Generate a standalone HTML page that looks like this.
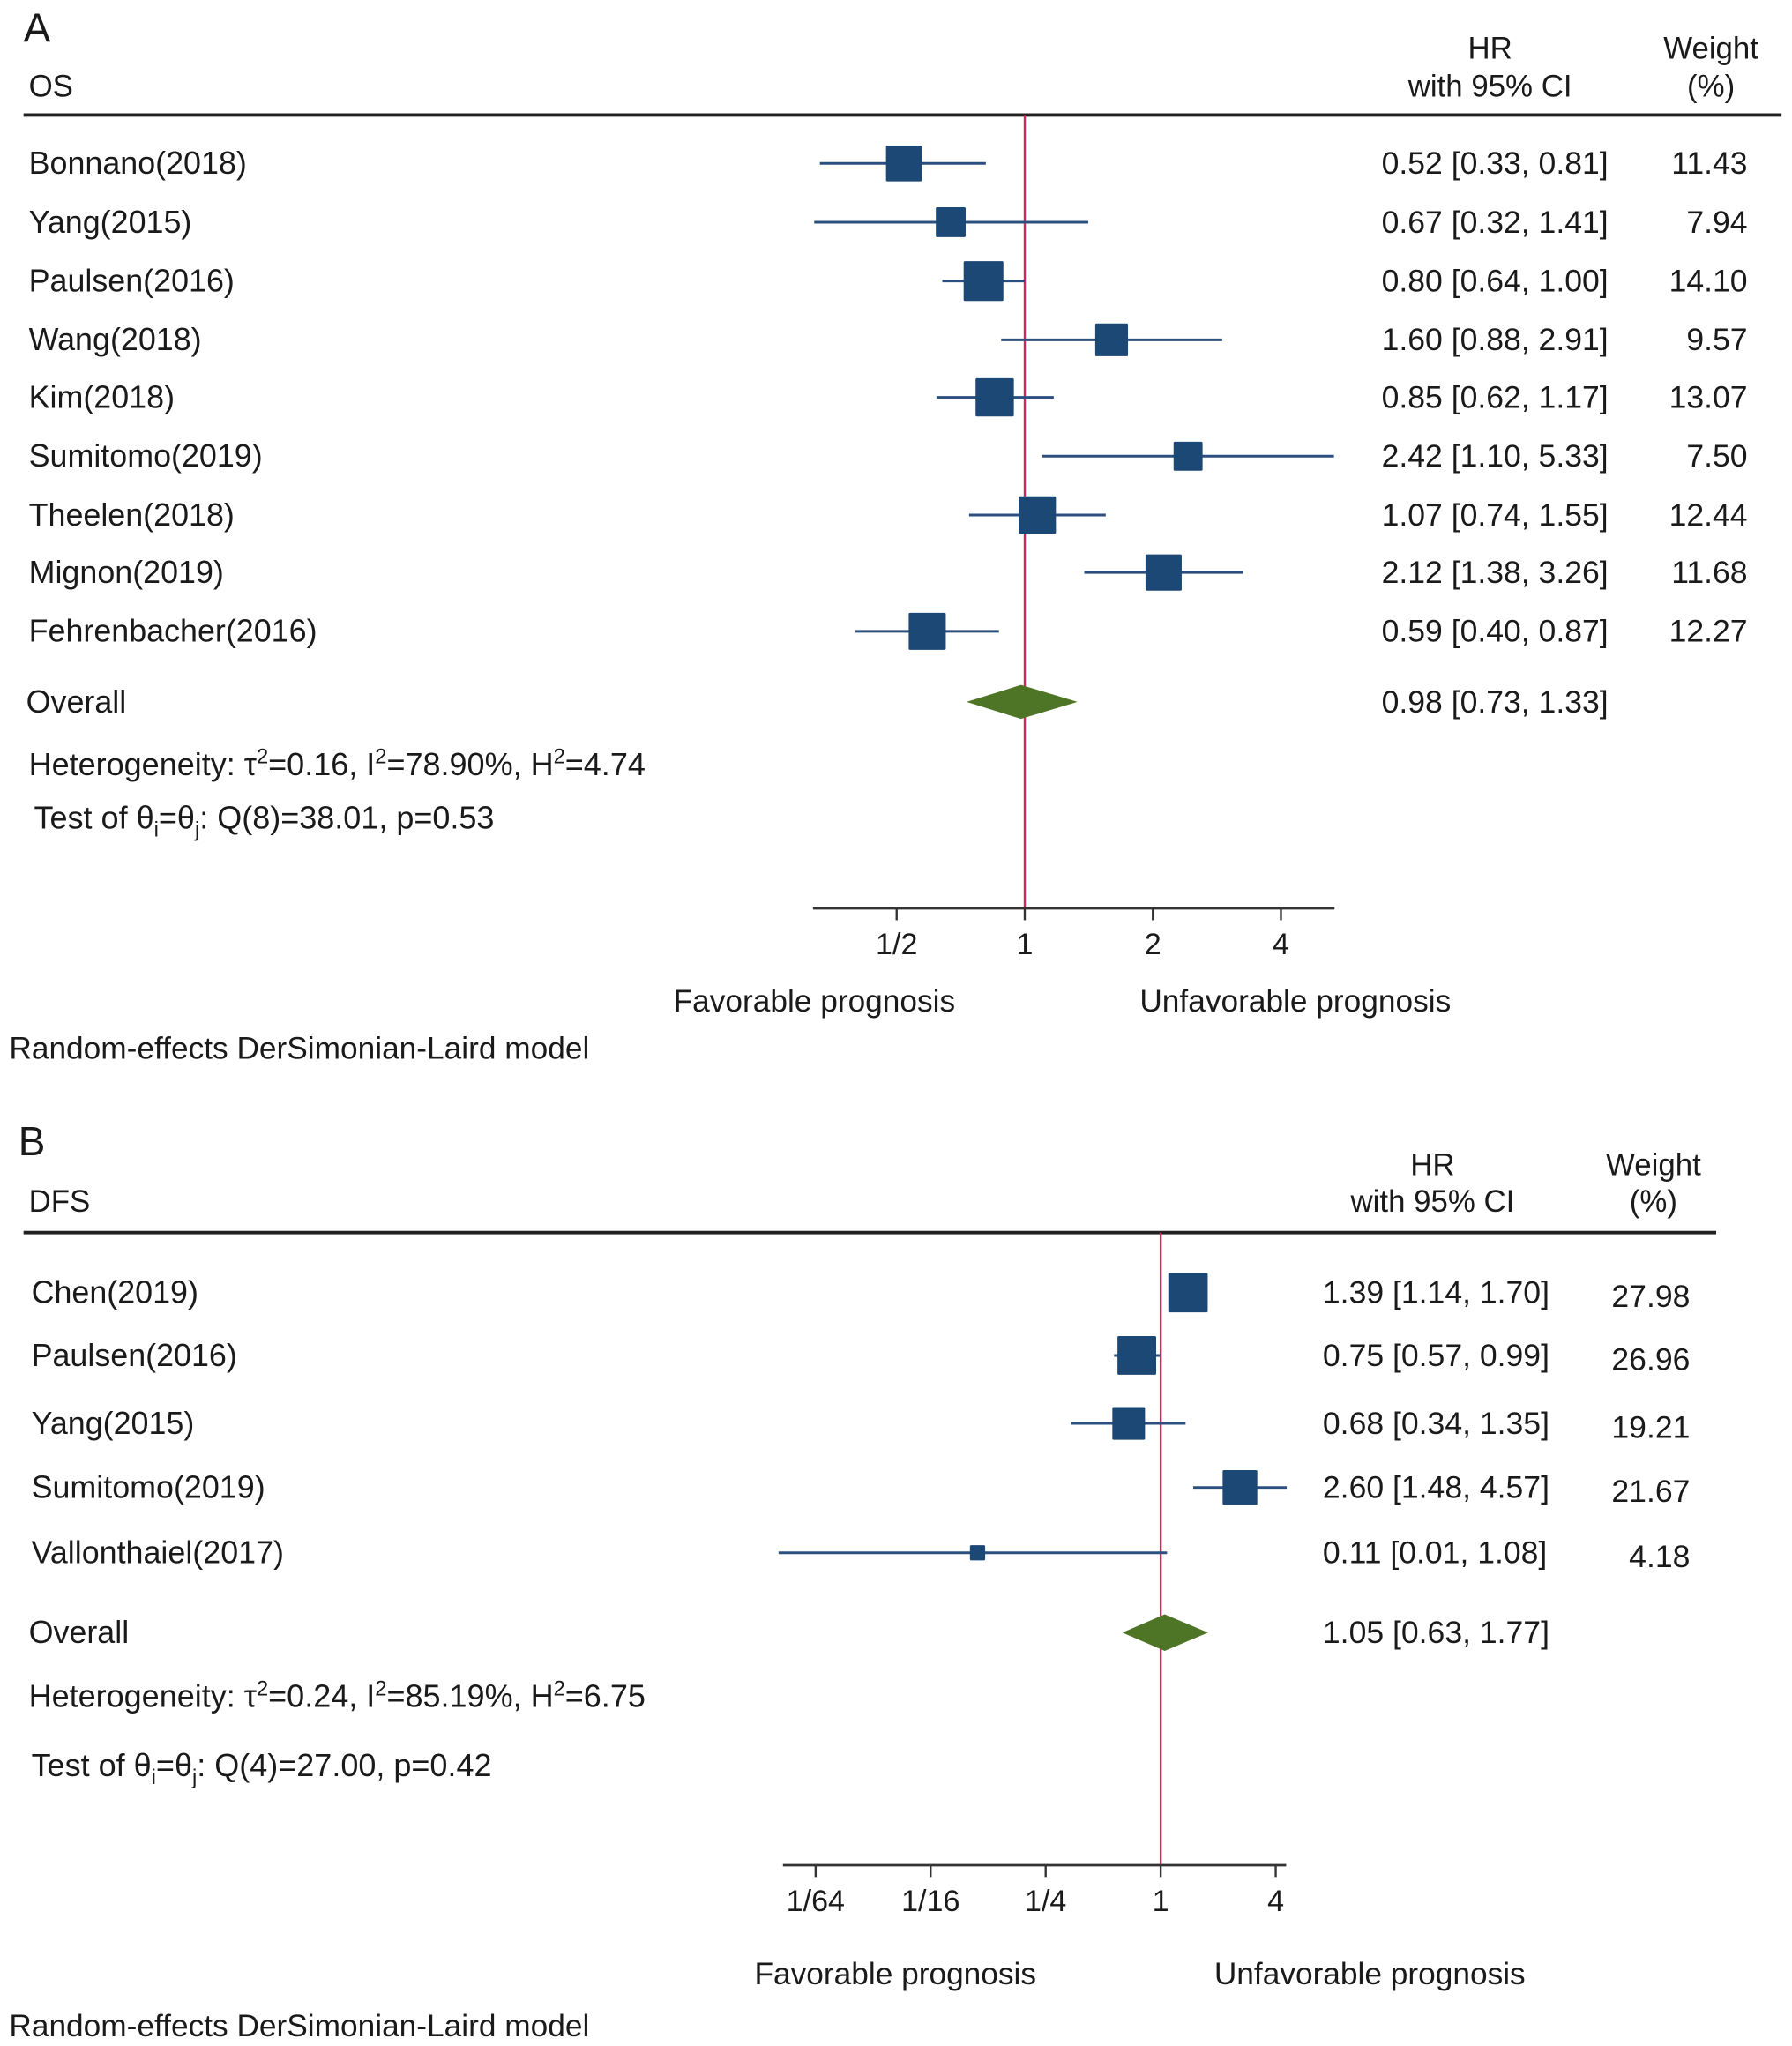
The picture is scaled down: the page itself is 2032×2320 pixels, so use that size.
<!DOCTYPE html>
<html><head><meta charset="utf-8"><style>
html,body{margin:0;padding:0;background:#fff}
svg{display:block}
text{font-family:"Liberation Sans",Arial,sans-serif;fill:#1a1a1a}
</style></head><body>
<svg id="fig" width="2032" height="2320" viewBox="0 0 1371 1565.3" xmlns="http://www.w3.org/2000/svg">
<g id="panelA"></g>
<g id="panelB"></g>
</svg>
<script>
// ---- Panel A data (OS) ----
const studiesA = ["Bonnano(2018)","Yang(2015)","Paulsen(2016)","Wang(2018)","Kim(2018)","Sumitomo(2019)","Theelen(2018)","Mignon(2019)","Fehrenbacher(2016)"];
const hrA = [0.52,0.67,0.80,1.60,0.85,2.42,1.07,2.12,0.59];
const loA = [0.33,0.32,0.64,0.88,0.62,1.10,0.74,1.38,0.40];
const hiA = [0.81,1.41,1.00,2.91,1.17,5.33,1.55,3.26,0.87];
const weightsA = ["11.43","7.94","14.10","9.57","13.07","7.50","12.44","11.68","12.27"];
const overallA = [0.98,0.73,1.33];
const ticksA = [0.5,1,2,4];
const tickLabelsA = ["1/2","1","2","4"];
// ---- Panel B data (DFS) ----
const studiesB = ["Chen(2019)","Paulsen(2016)","Yang(2015)","Sumitomo(2019)","Vallonthaiel(2017)"];
const hrB = [1.39,0.75,0.68,2.60,0.11];
const loB = [1.14,0.57,0.34,1.48,0.01];
const hiB = [1.70,0.99,1.35,4.57,1.08];
const weightsB = ["27.98","26.96","19.21","21.67","4.18"];
const overallB = [1.05,0.63,1.77];
const ticksB = [1/64,1/16,1/4,1,4];
const tickLabelsB = ["1/64","1/16","1/4","1","4"];

const NS="http://www.w3.org/2000/svg";
function mk(parent,tag,attrs,txt){const e=document.createElementNS(NS,tag);for(const k in attrs)e.setAttribute(k,attrs[k]);if(txt!==undefined)e.textContent=txt;parent.appendChild(e);return e;}
function fmt(v){return v.toFixed(2);}

function panel(g,cfg,studies,hr,lo,hi,w,ov,ticks,tl){
  const xs=v=>cfg.x1+Math.log2(v)*cfg.unit;
  let t;
  t=mk(g,'text',{x:cfg.letterX,y:cfg.letterY,'font-size':31},cfg.letter);
  
  
  t=mk(g,'text',{x:22,y:cfg.hdrY2,'font-size':23.5},cfg.outcome);
  
  
  t=mk(g,'text',{x:cfg.hrHdrX,y:cfg.hdrY1,'font-size':23.5,'text-anchor':'middle'},'HR');
  
  
  t=mk(g,'text',{x:cfg.hrHdrX,y:cfg.hdrY2,'font-size':23.5,'text-anchor':'middle'},'with 95% CI');
  
  
  t=mk(g,'text',{x:cfg.wHdrX,y:cfg.hdrY1,'font-size':23.5,'text-anchor':'middle'},'Weight');
  
  
  t=mk(g,'text',{x:cfg.wHdrX,y:cfg.hdrY2,'font-size':23.5,'text-anchor':'middle'},'(%)');
  
  
  let r=mk(g,'rect',{x:18,y:cfg.ruleY-1.3,width:cfg.ruleX2-18,height:2.6,fill:'#222'});
  
  
  let l=mk(g,'line',{x1:xs(1),x2:xs(1),y1:cfg.ruleY,y2:cfg.axisY,stroke:'#d8245a','stroke-width':1.6});
  
  
  studies.forEach((s,i)=>{
    const y=cfg.rows[i];
    let tx=mk(g,'text',{x:cfg.labX,y:y+8,'font-size':24.2},s);
    
    
    let ci=mk(g,'line',{x1:xs(lo[i]),x2:xs(hi[i]),y1:y,y2:y,stroke:'#2b5080','stroke-width':2});
    
    
    const sz=cfg.sq*Math.sqrt(parseFloat(w[i]));
    let sq=mk(g,'rect',{x:xs(hr[i])-sz/2,y:y-sz/2,width:sz,height:sz,fill:'#1c4876',rx:1});
    
    
    let ht=mk(g,'text',{x:cfg.hrX,y:y+8,'font-size':24},fmt(hr[i])+' ['+fmt(lo[i])+', '+fmt(hi[i])+']');
    
    
    let wt=mk(g,'text',{x:cfg.wX,y:y+8+cfg.wOff,'font-size':24,'text-anchor':'end'},w[i]);
    
    
  });
  const oy=cfg.ovY;
  let ot=mk(g,'text',{x:cfg.labX-2,y:oy+8,'font-size':24.2},'Overall');
  
  
  const h=cfg.dh;
  let d=mk(g,'polygon',{points:`${xs(ov[1])},${oy} ${xs(ov[0])},${oy-h} ${xs(ov[2])},${oy} ${xs(ov[0])},${oy+h}`,fill:'#4e7526'});
  
  
  let ov2=mk(g,'text',{x:cfg.hrX,y:oy+8,'font-size':24},fmt(ov[0])+' ['+fmt(ov[1])+', '+fmt(ov[2])+']');
  
  
  let het=mk(g,'text',{x:22,y:cfg.hetY+8,'font-size':24.3});
  
  
  het.innerHTML='Heterogeneity: τ<tspan dy="-9" font-size="16">2</tspan><tspan dy="9">='+cfg.tau+', I</tspan><tspan dy="-9" font-size="16">2</tspan><tspan dy="9">='+cfg.i2+', H</tspan><tspan dy="-9" font-size="16">2</tspan><tspan dy="9">='+cfg.h2+'</tspan>';
  let te=mk(g,'text',{x:cfg.testX,y:cfg.testY+8,'font-size':24.3});
  
  
  te.innerHTML='Test of θ<tspan dy="6" font-size="16">i</tspan><tspan dy="-6">=θ</tspan><tspan dy="6" font-size="16">j</tspan><tspan dy="-6">: '+cfg.q+'</tspan>';
  let ax=mk(g,'line',{x1:cfg.axX1,x2:cfg.axX2,y1:cfg.axisY,y2:cfg.axisY,stroke:'#333','stroke-width':1.8});
  
  
  ticks.forEach((tv,i)=>{
    let tk=mk(g,'line',{x1:xs(tv),x2:xs(tv),y1:cfg.axisY,y2:cfg.axisY+9,stroke:'#333','stroke-width':1.6});
    
    
    let tt=mk(g,'text',{x:xs(tv),y:cfg.axisY+35,'font-size':23,'text-anchor':'middle'},tl[i]);
    
    
  });
  let f=mk(g,'text',{x:cfg.favX,y:cfg.favY+8,'font-size':23.8,'text-anchor':'middle'},'Favorable prognosis');
  
  
  let u=mk(g,'text',{x:cfg.unfX,y:cfg.favY+8,'font-size':23.8,'text-anchor':'middle'},'Unfavorable prognosis');
  
  
  let m=mk(g,'text',{x:7,y:cfg.modelY+8,'font-size':23.8},'Random-effects DerSimonian-Laird model');
  
  
}

panel(document.getElementById('panelA'),{
  letter:'A',letterX:18,letterY:32,outcome:'OS',hdrY1:45,hdrY2:74,hrHdrX:1140,wHdrX:1309,
  ruleY:88,ruleX2:1363,x1:784,unit:98,axisY:695,axX1:622,axX2:1021,
  rows:[125,170,215,260,304,349,394,438,483],labX:22,hrX:1057,wX:1337,wOff:0,sq:8.1,
  ovY:537,dh:13,hetY:585,testY:626,testX:26,tau:'0.16',i2:'78.90%',h2:'4.74',q:'Q(8)=38.01, p=0.53',
  favX:623,unfX:991,favY:766,modelY:802
},studiesA,hrA,loA,hiA,weightsA,overallA,ticksA,tickLabelsA);

panel(document.getElementById('panelB'),{
  letter:'B',letterX:14,letterY:884,outcome:'DFS',hdrY1:899,hdrY2:927,hrHdrX:1096,wHdrX:1265,
  ruleY:943,ruleX2:1313,x1:888,unit:44,axisY:1427,axX1:599,axX2:984,
  rows:[989,1037,1089,1138,1188],labX:24,hrX:1012,wX:1293,wOff:3,sq:5.7,
  ovY:1249,dh:14,hetY:1298,testY:1351,testX:24,tau:'0.24',i2:'85.19%',h2:'6.75',q:'Q(4)=27.00, p=0.42',
  favX:685,unfX:1048,favY:1510,modelY:1550
},studiesB,hrB,loB,hiB,weightsB,overallB,ticksB,tickLabelsB);
</script>
</body></html>
